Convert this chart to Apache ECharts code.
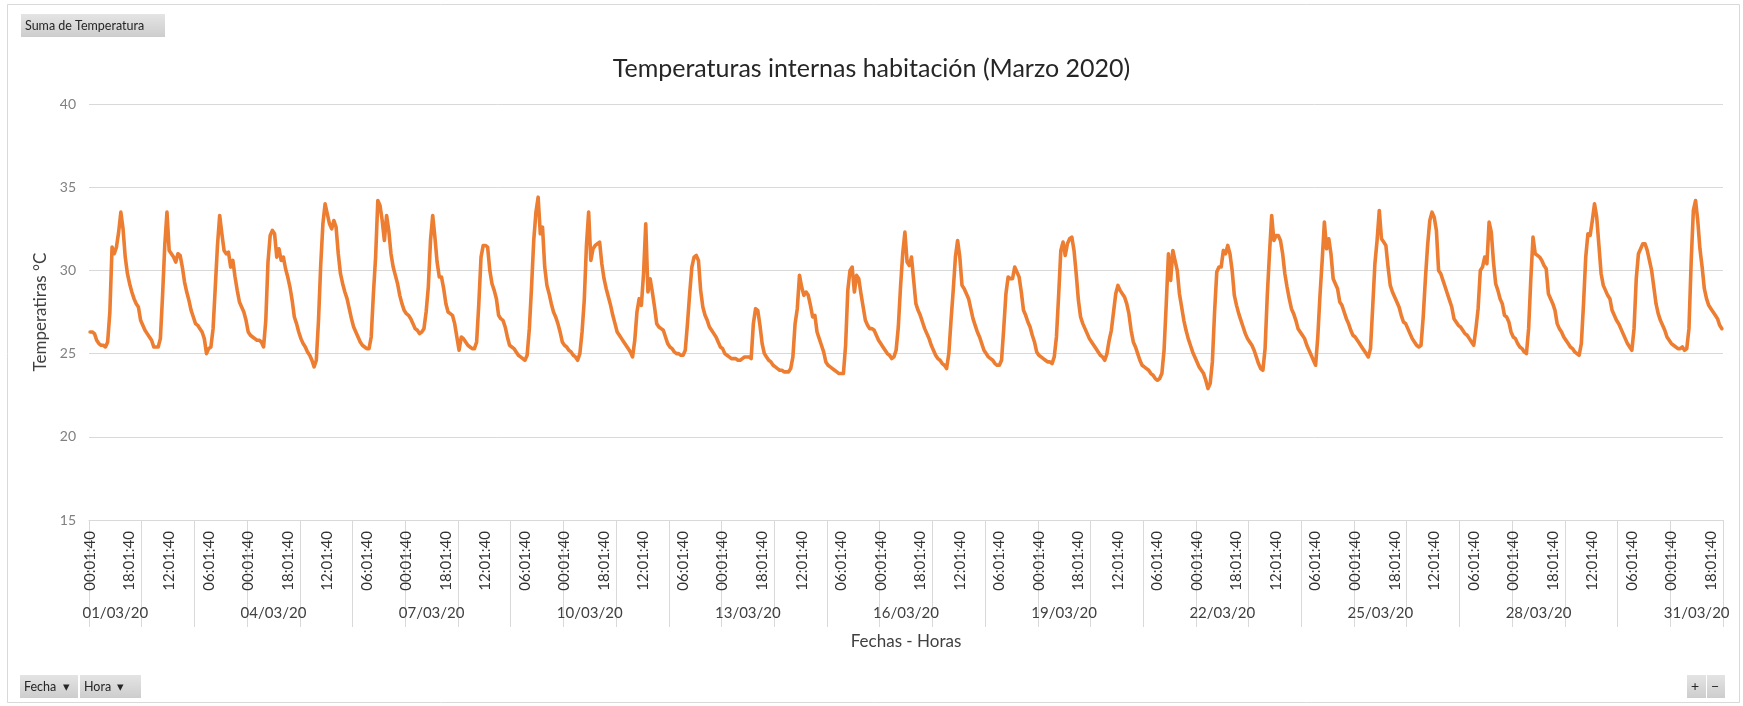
<!DOCTYPE html>
<html>
<head>
<meta charset="utf-8">
<title>Temperaturas internas habitación (Marzo 2020)</title>
<script src="https://cdn.jsdelivr.net/npm/echarts/dist/echarts.min.js"></script>
<style>
  html, body { margin: 0; padding: 0; background: #ffffff; }
  #chart { width: 1743px; height: 706px; }
</style>
</head>
<body>
<div id="chart"></div>
<script>
// Días del mes (nivel exterior del eje X)
const fechas = [
  '01/03/20', '02/03/20', '03/03/20', '04/03/20', '05/03/20', '06/03/20', '07/03/20', '08/03/20',
  '09/03/20', '10/03/20', '11/03/20', '12/03/20', '13/03/20', '14/03/20', '15/03/20', '16/03/20',
  '17/03/20', '18/03/20', '19/03/20', '20/03/20', '21/03/20', '22/03/20', '23/03/20', '24/03/20',
  '25/03/20', '26/03/20', '27/03/20', '28/03/20', '29/03/20', '30/03/20', '31/03/20'
];

// Horas de lectura de cada día (nivel interior del eje X)
const horas = [
  '00:01:40', '01:01:40', '02:01:40', '03:01:40', '04:01:40', '05:01:40',
  '06:01:40', '07:01:40', '08:01:40', '09:01:40', '10:01:40', '11:01:40',
  '12:01:40', '13:01:40', '14:01:40', '15:01:40', '16:01:40', '17:01:40',
  '18:01:40', '19:01:40', '20:01:40', '21:01:40', '22:01:40', '23:01:40'
];

// Temperatura (°C), una fila por día, 24 lecturas horarias
const temperatura = [
  26.3, 26.3, 26.2, 25.8, 25.6, 25.5, 25.5, 25.4, 25.7, 27.5, 31.4, 31.0, 31.4, 32.3, 33.5, 32.5, 30.8, 29.8, 29.2, 28.7, 28.3, 28.0, 27.8, 27.0, // 01/03
  26.7, 26.4, 26.2, 26.0, 25.8, 25.4, 25.4, 25.4, 25.9, 28.5, 31.5, 33.5, 31.2, 31.0, 30.8, 30.5, 31.0, 30.9, 30.2, 29.3, 28.7, 28.2, 27.6, 27.2, // 02/03
  26.8, 26.7, 26.5, 26.3, 25.9, 25.0, 25.3, 25.4, 26.5, 29.0, 31.5, 33.3, 32.2, 31.2, 31.0, 31.1, 30.2, 30.6, 29.6, 28.8, 28.1, 27.8, 27.5, 27.0, // 03/03
  26.3, 26.1, 26.0, 25.9, 25.8, 25.8, 25.7, 25.4, 27.0, 30.5, 32.1, 32.4, 32.2, 30.8, 31.3, 30.6, 30.8, 30.1, 29.6, 29.0, 28.2, 27.2, 26.8, 26.3, // 04/03
  25.9, 25.6, 25.4, 25.1, 24.9, 24.6, 24.2, 24.6, 27.0, 30.3, 32.8, 34.0, 33.4, 32.8, 32.5, 33.0, 32.6, 31.0, 29.8, 29.2, 28.7, 28.3, 27.7, 27.1, // 05/03
  26.6, 26.3, 26.0, 25.7, 25.5, 25.4, 25.3, 25.3, 26.0, 28.6, 30.8, 34.2, 33.9, 33.0, 31.8, 33.3, 32.4, 31.0, 30.2, 29.7, 29.2, 28.5, 28.0, 27.6, // 06/03
  27.4, 27.3, 27.1, 26.8, 26.5, 26.4, 26.2, 26.3, 26.5, 27.5, 29.0, 31.8, 33.3, 32.0, 30.5, 29.6, 29.6, 28.9, 28.0, 27.5, 27.4, 27.3, 26.8, 26.0, // 07/03
  25.2, 26.0, 25.9, 25.7, 25.5, 25.4, 25.3, 25.3, 25.7, 28.0, 30.8, 31.5, 31.5, 31.4, 30.0, 29.2, 28.8, 28.3, 27.3, 27.1, 27.0, 26.6, 26.0, 25.5, // 08/03
  25.4, 25.3, 25.1, 24.9, 24.8, 24.7, 24.6, 24.9, 26.5, 29.0, 31.8, 33.5, 34.4, 32.2, 32.6, 30.2, 29.1, 28.6, 28.0, 27.5, 27.2, 26.8, 26.3, 25.7, // 09/03
  25.5, 25.4, 25.2, 25.1, 24.9, 24.8, 24.6, 25.0, 26.3, 28.2, 31.5, 33.5, 30.6, 31.3, 31.5, 31.6, 31.7, 30.4, 29.5, 28.9, 28.4, 27.9, 27.3, 26.8, // 10/03
  26.3, 26.1, 25.9, 25.7, 25.5, 25.3, 25.1, 24.8, 25.8, 27.5, 28.3, 27.9, 29.8, 32.8, 28.7, 29.5, 28.7, 27.8, 26.8, 26.6, 26.5, 26.4, 26.0, 25.6, // 11/03
  25.4, 25.3, 25.1, 25.0, 25.0, 24.9, 24.9, 25.2, 26.8, 28.6, 30.2, 30.8, 30.9, 30.6, 28.8, 27.8, 27.3, 27.0, 26.6, 26.4, 26.2, 26.0, 25.7, 25.4, // 12/03
  25.3, 25.0, 24.9, 24.8, 24.7, 24.7, 24.7, 24.6, 24.6, 24.7, 24.8, 24.8, 24.8, 24.7, 26.8, 27.7, 27.6, 26.7, 25.6, 25.0, 24.8, 24.6, 24.5, 24.3, // 13/03
  24.2, 24.1, 24.0, 24.0, 23.9, 23.9, 23.9, 24.1, 24.8, 26.8, 27.7, 29.7, 29.0, 28.5, 28.7, 28.5, 27.9, 27.2, 27.3, 26.3, 25.9, 25.5, 25.1, 24.5, // 14/03
  24.3, 24.2, 24.1, 24.0, 23.9, 23.8, 23.8, 23.8, 25.5, 28.8, 30.0, 30.2, 28.7, 29.7, 29.5, 28.6, 27.8, 27.0, 26.7, 26.5, 26.5, 26.4, 26.1, 25.8, // 15/03
  25.6, 25.4, 25.2, 25.0, 24.9, 24.7, 24.8, 25.2, 26.6, 29.0, 31.0, 32.3, 30.5, 30.3, 30.8, 29.4, 28.0, 27.6, 27.3, 26.9, 26.5, 26.2, 25.9, 25.5, // 16/03
  25.2, 24.9, 24.7, 24.6, 24.4, 24.3, 24.1, 25.0, 27.0, 28.8, 30.8, 31.8, 30.8, 29.1, 28.9, 28.6, 28.3, 27.7, 27.1, 26.7, 26.3, 26.0, 25.6, 25.2, // 17/03
  25.0, 24.8, 24.7, 24.6, 24.4, 24.3, 24.3, 24.6, 26.5, 28.6, 29.6, 29.5, 29.5, 30.2, 29.9, 29.6, 28.7, 27.6, 27.3, 26.9, 26.6, 26.1, 25.7, 25.1, // 18/03
  24.9, 24.8, 24.7, 24.6, 24.5, 24.5, 24.4, 24.8, 26.0, 28.5, 31.2, 31.7, 30.9, 31.6, 31.9, 32.0, 31.2, 29.8, 28.2, 27.2, 26.8, 26.5, 26.2, 25.9, // 19/03
  25.7, 25.5, 25.3, 25.1, 24.9, 24.8, 24.6, 25.0, 25.8, 26.4, 27.5, 28.6, 29.1, 28.8, 28.6, 28.4, 28.0, 27.4, 26.4, 25.7, 25.4, 25.0, 24.6, 24.3, // 20/03
  24.2, 24.1, 24.0, 23.8, 23.7, 23.5, 23.4, 23.5, 23.8, 25.2, 28.0, 31.0, 29.4, 31.2, 30.6, 30.0, 28.6, 27.8, 27.0, 26.4, 25.9, 25.5, 25.1, 24.8, // 21/03
  24.5, 24.2, 24.0, 23.8, 23.4, 22.9, 23.2, 24.5, 27.5, 29.9, 30.2, 30.2, 31.2, 31.0, 31.5, 31.0, 30.0, 28.5, 27.9, 27.4, 27.0, 26.6, 26.2, 25.9, // 22/03
  25.7, 25.5, 25.2, 24.8, 24.4, 24.1, 24.0, 25.3, 28.5, 31.0, 33.3, 31.8, 32.1, 32.1, 31.8, 31.0, 29.8, 29.0, 28.3, 27.7, 27.4, 27.0, 26.5, 26.3, // 23/03
  26.1, 25.9, 25.5, 25.2, 24.9, 24.6, 24.3, 26.0, 28.5, 30.6, 32.9, 31.3, 31.9, 31.0, 29.5, 29.2, 28.9, 28.1, 27.9, 27.5, 27.1, 26.8, 26.4, 26.1, // 24/03
  26.0, 25.8, 25.6, 25.4, 25.2, 25.0, 24.8, 25.3, 27.8, 30.4, 31.8, 33.6, 31.9, 31.7, 31.5, 30.2, 29.1, 28.7, 28.4, 28.1, 27.8, 27.3, 26.9, 26.8, // 25/03
  26.5, 26.2, 25.9, 25.7, 25.5, 25.4, 25.5, 27.2, 29.5, 31.5, 33.0, 33.5, 33.2, 32.4, 30.0, 29.8, 29.4, 29.0, 28.6, 28.2, 27.8, 27.1, 26.9, 26.7, // 26/03
  26.6, 26.4, 26.2, 26.1, 25.9, 25.7, 25.5, 26.5, 27.7, 30.0, 30.2, 30.8, 30.4, 32.9, 32.3, 30.5, 29.2, 28.8, 28.3, 28.0, 27.3, 27.2, 26.9, 26.3, // 27/03
  26.0, 25.9, 25.6, 25.4, 25.3, 25.1, 25.0, 26.5, 29.5, 32.0, 31.0, 30.9, 30.8, 30.6, 30.3, 30.1, 28.6, 28.3, 28.0, 27.6, 26.8, 26.5, 26.3, 26.0, // 28/03
  25.8, 25.6, 25.4, 25.3, 25.1, 25.0, 24.9, 25.6, 28.0, 30.8, 32.2, 32.1, 33.0, 34.0, 33.2, 31.5, 29.8, 29.1, 28.8, 28.5, 28.3, 27.6, 27.3, 27.0, // 29/03
  26.8, 26.5, 26.2, 25.9, 25.6, 25.4, 25.2, 26.5, 29.5, 31.0, 31.3, 31.6, 31.6, 31.2, 30.6, 30.0, 29.0, 28.0, 27.4, 27.0, 26.7, 26.4, 26.0, 25.8, // 30/03
  25.6, 25.5, 25.4, 25.3, 25.3, 25.4, 25.2, 25.3, 26.5, 30.5, 33.6, 34.2, 33.0, 31.3, 30.2, 28.9, 28.3, 27.9, 27.7, 27.5, 27.3, 27.1, 26.7, 26.5  // 31/03
];

// Cada categoría horaria es "fecha hora"
const categorias = fechas.flatMap(f => horas.map(h => f + ' ' + h));

const PASO_HORAS = 18;   // una etiqueta de hora cada 18 lecturas
const PASO_FECHAS = 3;   // una etiqueta de fecha cada 3 días

const gris = '#d9d9d9';
const textoOscuro = '#404040';
const fuente = 'Lato, "Liberation Sans", sans-serif';

const chart = echarts.init(document.getElementById('chart'), null, { renderer: 'canvas' });

// Botones de campo de la tabla dinámica
function boton(x, y, w, h, texto, size) {
  return {
    type: 'group', x: x, y: y, silent: true,
    children: [
      { type: 'rect', shape: { x: 0, y: 0, width: w, height: h },
        style: { fill: new echarts.graphic.LinearGradient(0, 0, 0, 1, [
          { offset: 0, color: '#e4e4e4' }, { offset: 1, color: '#cdcdcd' }
        ]), stroke: null } },
      { type: 'text', x: 4, y: h / 2,
        style: { text: texto, fontSize: size || 12.5, fontFamily: fuente, fill: '#262626', verticalAlign: 'middle', align: 'left' } }
    ]
  };
}

const option = {
  animation: false,
  backgroundColor: '#ffffff',
  textStyle: { fontFamily: fuente },
  title: {
    text: 'Temperaturas internas habitación (Marzo 2020)',
    left: 'center',
    top: 56,
    padding: 0,
    textStyle: { fontSize: 25, fontWeight: 'normal', color: '#262626', fontFamily: fuente }
  },
  grid: { left: 89, right: 20, top: 104, bottom: 186, containLabel: false },
  xAxis: [
    {
      type: 'category',
      data: categorias,
      boundaryGap: true,
      position: 'bottom',
      axisLine: { lineStyle: { color: gris, width: 1 } },
      axisTick: { show: false },
      splitLine: { show: false },
      axisLabel: {
        interval: (i) => i % PASO_HORAS === 0,
        formatter: (v) => v.split(' ')[1],
        rotate: 90,
        margin: 11,
        fontSize: 15,
        color: '#333333',
        fontFamily: fuente
      }
    },
    {
      type: 'category',
      data: fechas,
      boundaryGap: true,
      position: 'bottom',
      axisLine: { show: false },
      axisTick: { show: true, interval: 0, length: 107, lineStyle: { color: gris, width: 1 } },
      splitLine: { show: false },
      axisLabel: {
        interval: PASO_FECHAS - 1,
        margin: 86,
        fontSize: 15,
        color: textoOscuro,
        fontFamily: fuente
      },
      name: 'Fechas - Horas',
      nameLocation: 'middle',
      nameGap: 113,
      nameTextStyle: { fontSize: 17, color: textoOscuro, fontFamily: fuente }
    }
  ],
  yAxis: {
    type: 'value',
    min: 15,
    max: 40,
    interval: 5,
    axisLine: { show: false },
    axisTick: { show: false },
    splitLine: { lineStyle: { color: gris, width: 1 } },
    axisLabel: { color: '#808080', fontSize: 14, margin: 13, fontFamily: fuente },
    name: 'Temperatiras °C',
    nameLocation: 'middle',
    nameRotate: 90,
    nameGap: 38,
    nameTextStyle: { fontSize: 17, color: textoOscuro, fontFamily: fuente }
  },
  series: [{
    name: 'Suma de Temperatura',
    type: 'line',
    xAxisIndex: 0,
    yAxisIndex: 0,
    data: temperatura,
    showSymbol: false,
    symbol: 'none',
    lineStyle: { color: '#ED7D31', width: 3.6, join: 'round', cap: 'round' },
    itemStyle: { color: '#ED7D31' }
  }],
  graphic: [
    { type: 'rect', silent: true, shape: { x: 7.5, y: 4.5, width: 1732, height: 698 },
      style: { fill: 'none', stroke: gris, lineWidth: 1 } },
    boton(21, 14, 144, 23, 'Suma de Temperatura', 12.5),
    boton(20, 675, 58, 23, 'Fecha  \u25BE', 12.5),
    boton(80, 675, 61, 23, 'Hora  \u25BE', 12.5),
    boton(1687, 675, 19, 23, '+', 14),
    boton(1707, 675, 18, 23, '\u2212', 14)
  ]
};

chart.setOption(option);
</script>
</body>
</html>
